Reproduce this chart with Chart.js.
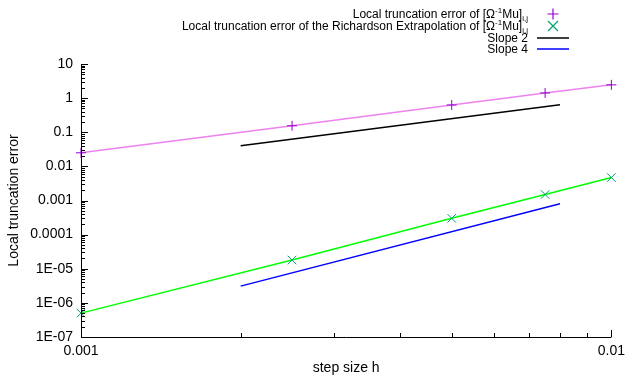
<!DOCTYPE html>
<html>
<head>
<meta charset="utf-8">
<script src="https://cdn.jsdelivr.net/npm/chart.js@4/dist/chart.umd.min.js"></script>
<style>
  html, body { margin: 0; padding: 0; background: #fff; }
  #wrap { position: relative; width: 631px; height: 382px; }
  #legend { position: absolute; top: 0; left: 0; width: 631px; height: 60px; font-family: "Liberation Sans", Arial, sans-serif; font-size: 12px; color: #000; }
  .row { position: absolute; white-space: nowrap; line-height: 12px; }
  sup, sub { font-size: 8px; line-height: 0; }
</style>
</head>
<body>
<div id="wrap">
  <canvas id="c" width="631" height="382"></canvas>
</div>
<script>
const stepSizes = [0.001, 0.0025, 0.005, 0.0075, 0.01];
const errorOmegaMu = [0.025, 0.155, 0.63, 1.42, 2.45];
const errorRichardson = [5.0e-7, 1.8e-5, 3.0e-4, 1.5e-3, 4.7e-3];
const slopeH = [0.002, 0.008];
const slope2 = [0.04, 0.64];
const slope4 = [3.1e-6, 8.0e-4];
const yTickValues = [10, 1, 0.1, 0.01, 0.001, 0.0001, 1e-5, 1e-6, 1e-7];
const yTickLabels = ["10", "1", "0.1", "0.01", "0.001", "0.0001", "1E-05", "1E-06", "1E-07"];
const xTickValues = [0.001, 0.01];
const xTickLabels = ["0.001", "0.01"];
const legendLabels = [
  'Local truncation error of [&Omega;<sup>-1</sup>Mu]<sub>i,j</sub>',
  'Local truncation error of the Richardson Extrapolation of [&Omega;<sup>-1</sup>Mu]<sub>i,j</sub>',
  'Slope 2',
  'Slope 4'
];

const FONT = '"Liberation Sans", Arial, sans-serif';

const minorTicks = {
  id: 'minorTicks',
  afterDraw(chart) {
    const ctx = chart.ctx;
    const xs = chart.scales.x, ys = chart.scales.y;
    const a = chart.chartArea;
    ctx.save();
    ctx.strokeStyle = '#000';
    ctx.lineWidth = 1;
    ctx.beginPath();
    ctx.moveTo(a.left + 0.5, a.top);
    ctx.lineTo(a.left + 0.5, a.bottom + 0.5);
    ctx.lineTo(a.right, a.bottom + 0.5);
    for (let e = -7; e <= 1; e++) {
      const base = Math.pow(10, e);
      const yp = Math.round(ys.getPixelForValue(base)) + 0.5;
      ctx.moveTo(a.left, yp); ctx.lineTo(a.left + 7, yp);
      if (e < 1) {
        for (let k = 2; k <= 9; k++) {
          const y = Math.round(ys.getPixelForValue(k * base)) + 0.5;
          ctx.moveTo(a.left, y); ctx.lineTo(a.left + 4, y);
        }
      }
    }
    for (let e = -3; e <= -2; e++) {
      const base = Math.pow(10, e);
      const xp = Math.round(xs.getPixelForValue(base)) + 0.5;
      ctx.moveTo(xp, a.bottom); ctx.lineTo(xp, a.bottom - 7);
      if (e < -2) {
        for (let k = 2; k <= 9; k++) {
          const x = Math.round(xs.getPixelForValue(k * base)) + 0.5;
          ctx.moveTo(x, a.bottom); ctx.lineTo(x, a.bottom - 4);
        }
      }
    }
    ctx.stroke();
    ctx.restore();
  }
};

const pts = (xs, ys) => xs.map((x, i) => ({x: x, y: ys[i]}));

new Chart(document.getElementById('c'), {
  type: 'scatter',
  data: {
    datasets: [
      { data: pts(stepSizes, errorOmegaMu), showLine: true, borderColor: '#ee82ee', borderWidth: 1.5,
        pointStyle: 'cross', pointRadius: 5, pointBorderColor: '#9400d3', pointBackgroundColor: '#9400d3', pointBorderWidth: 1, clip: false },
      { data: pts(stepSizes, errorRichardson), showLine: true, borderColor: '#00ff00', borderWidth: 1.5,
        pointStyle: 'crossRot', pointRadius: 6, pointBorderColor: '#009e73', pointBackgroundColor: '#009e73', pointBorderWidth: 1, clip: false },
      { data: pts(slopeH, slope2), showLine: true, borderColor: '#000000', borderWidth: 1.5, pointRadius: 0 },
      { data: pts(slopeH, slope4), showLine: true, borderColor: '#0000ff', borderWidth: 1.5, pointRadius: 0 }
    ]
  },
  options: {
    responsive: false,
    animation: false,
    layout: { padding: { top: 64, right: 19, left: 0, bottom: 0 } },
    plugins: { legend: { display: false }, tooltip: { enabled: false } },
    scales: {
      x: {
        type: 'logarithmic', min: 0.001, max: 0.01,
        afterBuildTicks: s => { s.ticks = xTickValues.map(v => ({value: v})); },
        afterFit: s => { s.height = 45; },
        ticks: { callback: (v) => { const i = xTickValues.indexOf(v); return i >= 0 ? xTickLabels[i] : ''; },
                 font: { family: FONT, size: 14 }, color: '#000', padding: 6, maxRotation: 0, autoSkip: false },
        grid: { display: false, drawTicks: false },
        border: { display: false },
        title: { display: true, text: 'step size h', font: { family: FONT, size: 14 }, color: '#000', padding: { top: 0, bottom: 5 } }
      },
      y: {
        type: 'logarithmic', min: 1e-7, max: 10,
        afterBuildTicks: s => { s.ticks = yTickValues.map(v => ({value: v})); },
        afterFit: s => { s.width = 81; },
        ticks: { callback: (v) => { const i = yTickValues.findIndex(t => Math.abs(t - v) / t < 1e-6); return i >= 0 ? yTickLabels[i] : ''; },
                 font: { family: FONT, size: 14 }, color: '#000', padding: 8, autoSkip: false },
        grid: { display: false, drawTicks: false },
        border: { display: false },
        title: { display: true, text: 'Local truncation error', font: { family: FONT, size: 14 }, color: '#000', padding: { top: 6, bottom: 0 } }
      }
    }
  },
  plugins: [minorTicks]
});

// HTML legend
const legend = document.createElement('div');
legend.id = 'legend';
const samples = [
  '<svg width="12" height="12"><path d="M6 0.5V11.5M0.5 6H11.5" stroke="#9400d3" stroke-width="1.2" fill="none"/></svg>',
  '<svg width="12" height="12"><path d="M1 1L11 11M11 1L1 11" stroke="#009e73" stroke-width="1.2" fill="none"/></svg>',
  '<svg width="32" height="4"><path d="M0 2H32" stroke="#000000" stroke-width="1.5"/></svg>',
  '<svg width="32" height="4"><path d="M0 2H32" stroke="#0000ff" stroke-width="1.5"/></svg>'
];
const rowCenter = [14, 26, 37.5, 49];
legendLabels.forEach((lab, i) => {
  const t = document.createElement('div');
  t.className = 'row';
  t.style.top = (rowCenter[i] - 6) + 'px';
  t.style.right = '103px';
  t.innerHTML = lab;
  legend.appendChild(t);
  const m = document.createElement('div');
  m.style.position = 'absolute';
  m.style.lineHeight = '0';
  m.innerHTML = samples[i];
  if (i < 2) {
    m.style.left = '547px'; m.style.top = (rowCenter[i] - 6) + 'px';
  } else {
    m.style.left = '537px'; m.style.top = (rowCenter[i] - 2) + 'px';
  }
  legend.appendChild(m);
});
document.getElementById('wrap').appendChild(legend);
</script>
</body>
</html>
